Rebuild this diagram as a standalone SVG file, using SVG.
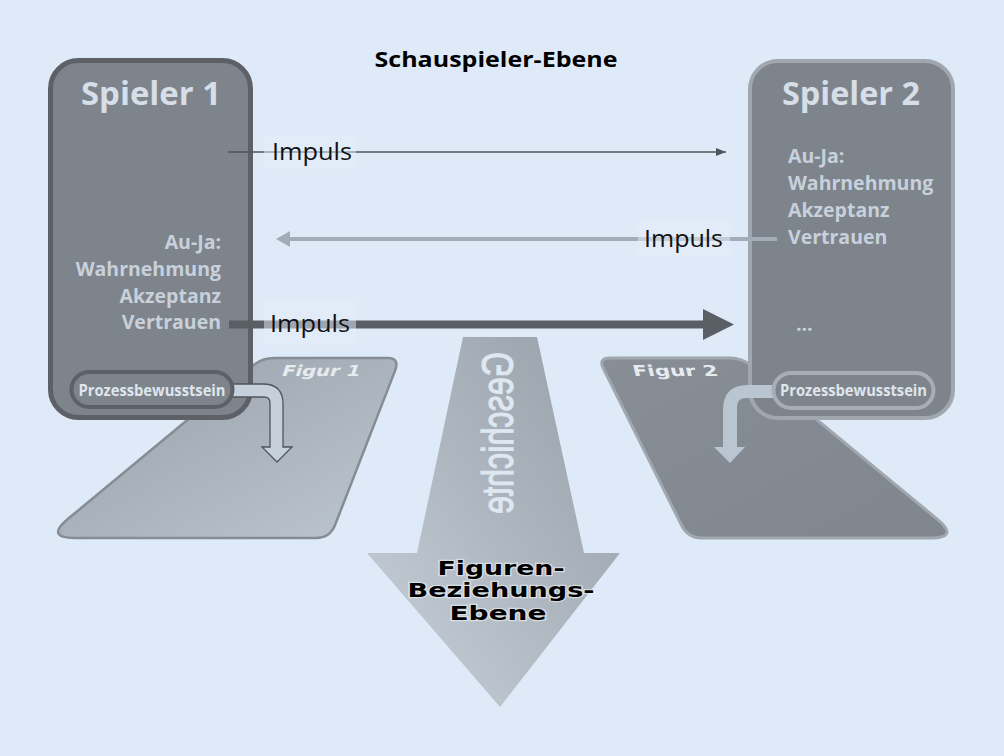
<svg xmlns="http://www.w3.org/2000/svg" width="1004" height="756" viewBox="0 0 1004 756">
  <defs>
    <linearGradient id="gFig1" x1="0" y1="0" x2="1" y2="1">
      <stop offset="0" stop-color="#98a0a9"/>
      <stop offset="1" stop-color="#bcc6d0"/>
    </linearGradient>
    <linearGradient id="gFig2" x1="0" y1="0" x2="1" y2="1">
      <stop offset="0" stop-color="#878e96"/>
      <stop offset="1" stop-color="#7f868e"/>
    </linearGradient>
    <linearGradient id="gStory" x1="0" y1="1" x2="1" y2="0">
      <stop offset="0" stop-color="#c9d2dc"/>
      <stop offset="0.5" stop-color="#aeb6bf"/>
      <stop offset="1" stop-color="#969ea7"/>
    </linearGradient>
    <marker id="mThin" viewBox="0 0 10 8" refX="10" refY="4" markerWidth="10" markerHeight="8" markerUnits="userSpaceOnUse" orient="auto">
      <path d="M0,0 L10,4 L0,8 Z" fill="#50555c"/>
    </marker>
    <style>
      .sans { font-family: "Open Sans", "Noto Sans", "Liberation Sans", sans-serif; }
      .box-fill { fill: #7e848c; }
      .title { font-size: 32px; font-weight: bold; fill: #d6dee7; }
      .list { font-size: 19.5px; font-weight: bold; fill: #c8d1db; }
      .pilltxt { font-size: 16px; font-weight: bold; fill: #dfe5ec; }
      .impuls { font-size: 24px; fill: #111; }
      .lblbg { fill: #e4eef9; opacity: 0.5; }
      .fig { font-family: "DejaVu Sans", "Verdana", sans-serif; font-size: 15px; font-weight: bold; fill: #e6ebf0; }
      .level { font-family: "DejaVu Sans", "Verdana", sans-serif; font-size: 20px; font-weight: bold; fill: #000; stroke: #eef3f8; stroke-width: 2.5px; paint-order: stroke; stroke-opacity: 0.6; }
    </style>
  </defs>

  <rect x="0" y="0" width="1004" height="756" fill="#deeaf7"/>

  <text class="sans" x="496" y="67" text-anchor="middle" font-size="21" font-weight="bold" fill="#000" textLength="243" lengthAdjust="spacingAndGlyphs">Schauspieler-Ebene</text>

  <g id="figur1">
    <path d="M274,358 L388,358 Q400,358 394.9,371.1 L335.1,524.9 Q330,538 316,538 L75,538 Q45,538 68.1,518.8 L252.8,365.7 Q262,358 274,358 Z" fill="url(#gFig1)" stroke="#858c94" stroke-width="2.5"/>
    <text class="fig" x="283" y="376" transform="skewX(-18) translate(120,0)" textLength="78" lengthAdjust="spacingAndGlyphs">Figur 1</text>
  </g>

  <g id="figur2">
    <path d="M610,358 L730,358 Q742,358 751.3,365.6 L936.9,518.9 Q960,538 930,538 L702,538 Q688,538 681.7,525.5 L603.4,368.7 Q598,358 610,358 Z" fill="url(#gFig2)" stroke="#a0a7af" stroke-width="3"/>
    <text class="fig" x="634" y="376" transform="skewX(14) translate(-93.7,0)" textLength="85" lengthAdjust="spacingAndGlyphs" fill="#dfe4ea">Figur 2</text>
  </g>

  <g id="geschichte">
    <path d="M463,337 L537,337 L584,553 L620,553 L500,707 L367,553 L417,553 Z" fill="url(#gStory)"/>
    <text transform="translate(513,352) rotate(90) scale(1,-1)" x="0" y="0" font-family="Liberation Sans, Arial, sans-serif" font-size="45" fill="#dfe7f0" stroke="#dfe7f0" stroke-width="1.2" textLength="162" lengthAdjust="spacingAndGlyphs">Geschichte</text>
    <text class="level" x="501" y="575" text-anchor="middle" textLength="127" lengthAdjust="spacingAndGlyphs">Figuren-</text>
    <text class="level" x="501" y="597" text-anchor="middle" textLength="187" lengthAdjust="spacingAndGlyphs">Beziehungs-</text>
    <text class="level" x="498" y="620" text-anchor="middle" textLength="97" lengthAdjust="spacingAndGlyphs">Ebene</text>
  </g>

  <g id="spieler1">
    <rect x="50.5" y="60.5" width="200" height="357" rx="28" class="box-fill" stroke="#5d6167" stroke-width="5"/>
    <text class="sans title" x="151" y="105" text-anchor="middle" textLength="140" lengthAdjust="spacingAndGlyphs">Spieler 1</text>
    <g class="sans list" text-anchor="end">
      <text x="221" y="249">Au-Ja:</text>
      <text x="221" y="276">Wahrnehmung</text>
      <text x="221" y="303">Akzeptanz</text>
      <text x="221" y="329">Vertrauen</text>
    </g>
  </g>

  <g id="spieler2">
    <rect x="750" y="61" width="203" height="357" rx="28" class="box-fill" stroke="#a0a7af" stroke-width="4"/>
    <text class="sans title" x="851" y="105" text-anchor="middle" textLength="138" lengthAdjust="spacingAndGlyphs">Spieler 2</text>
    <g class="sans list">
      <text x="788" y="163">Au-Ja:</text>
      <text x="788" y="190">Wahrnehmung</text>
      <text x="788" y="217">Akzeptanz</text>
      <text x="788" y="244">Vertrauen</text>
      <text x="796" y="331">...</text>
    </g>
  </g>

  <g id="connectors">
    <line x1="228" y1="152" x2="726" y2="152" stroke="#50555c" stroke-width="1.5" marker-end="url(#mThin)"/>
    <line x1="777" y1="239" x2="288" y2="239" stroke="#a3acb6" stroke-width="4"/>
    <path d="M276,239 L290,231 L290,247 Z" fill="#a3acb6"/>
    <line x1="229" y1="324.5" x2="704" y2="324.5" stroke="#5a5e65" stroke-width="8"/>
    <path d="M703,309 L734,324.5 L703,340 Z" fill="#5a5e65"/>
    <rect class="lblbg" x="264" y="136" width="92" height="33"/>
    <text class="sans impuls" x="272" y="160" textLength="80" lengthAdjust="spacingAndGlyphs">Impuls</text>
    <rect class="lblbg" x="638" y="222" width="92" height="34"/>
    <text class="sans impuls" x="644" y="247" textLength="79" lengthAdjust="spacingAndGlyphs">Impuls</text>
    <rect class="lblbg" x="264" y="301" width="92" height="44"/>
    <text class="sans impuls" x="270" y="332" textLength="80" lengthAdjust="spacingAndGlyphs">Impuls</text>
  </g>

  <g id="prozess1">
    <path d="M232,384 L263,384 Q283,384 283,404 L283,447 L292,447 L277,462 L262,447 L270,447 L270,403 Q270,397 264,397 L232,397 Z" fill="#c6d0da" stroke="#4f545a" stroke-width="1.3"/>
    <rect x="71.5" y="372" width="161" height="35" rx="17.5" fill="#7e848c" stroke="#5d6167" stroke-width="4"/>
    <text class="sans pilltxt" x="152" y="395.5" text-anchor="middle" textLength="147" lengthAdjust="spacingAndGlyphs">Prozessbewusstsein</text>
  </g>

  <g id="prozess2">
    <path d="M775,385 L748,385 Q723,385 723,410 L723,447 L714,447 L730,463 L745,447 L737,447 L737,407 Q737,398 746,398 L775,398 Z" fill="#b9c5d1"/>
    <rect x="773.5" y="373" width="160" height="35" rx="17.5" fill="#7e848c" stroke="#a7aeb6" stroke-width="4"/>
    <text class="sans pilltxt" x="853.5" y="395.5" text-anchor="middle" textLength="147" lengthAdjust="spacingAndGlyphs">Prozessbewusstsein</text>
  </g>
</svg>
